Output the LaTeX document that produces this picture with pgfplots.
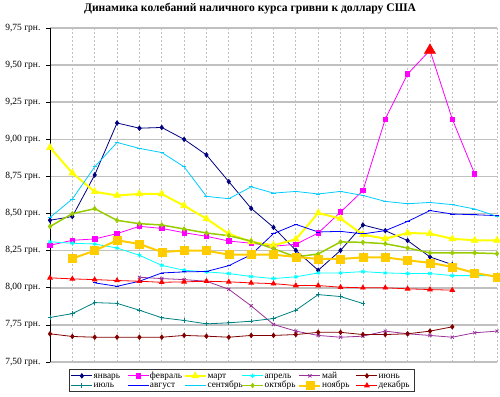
\documentclass[border=0pt]{standalone}
\usepackage{fontspec}
\setmainfont{Liberation Serif}
\usepackage{pgfplots}
\pgfplotsset{compat=1.18}
\definecolor{cJan}{HTML}{000080}
\definecolor{cFeb}{HTML}{FF00FF}
\definecolor{cMar}{HTML}{FFFF00}
\definecolor{cApr}{HTML}{00FFFF}
\definecolor{cMay}{HTML}{993399}
\definecolor{cJun}{HTML}{800000}
\definecolor{cJul}{HTML}{008080}
\definecolor{cAug}{HTML}{0000FF}
\definecolor{cSep}{HTML}{00CCFF}
\definecolor{cOct}{HTML}{99CC00}
\definecolor{cNov}{HTML}{FFCC00}
\definecolor{cDec}{HTML}{FF0000}
\definecolor{gridc}{HTML}{C0C0C0}
\begin{document}
\begin{tikzpicture}
\useasboundingbox (0pt,0pt) rectangle (500pt,-396pt);
\begin{axis}[
  at={(50pt,-362pt)}, anchor=south west,
  scale only axis, width=447pt, height=334pt,
  xmin=0, xmax=20, ymin=7.5, ymax=9.75,
  clip=false,
  axis y line=left, axis x line=bottom,
  axis line style={-},
  y axis line style={black, line width=0.8pt},
  x axis line style={draw=gridc, line width=1.4pt},
  xtick={0,...,20}, xticklabels={}, xtick style={draw=none},
  ytick={7.5,7.75,8,8.25,8.5,8.75,9,9.25,9.5,9.75},
  yticklabels={{7,50 грн.},{7,75 грн.},{8,00 грн.},{8,25 грн.},{8,50 грн.},{8,75 грн.},{9,00 грн.},{9,25 грн.},{9,50 грн.},{9,75 грн.}},
  y tick label style={font=\fontsize{9.5}{9.5}\selectfont, xshift=-2pt},
  ytick style={black, line width=0.6pt},
  tick align=outside, major tick length=4pt,
  xmajorgrids, ymajorgrids,
  x grid style={gridc, line width=0.8pt, dash pattern=on 2pt off 2pt},
  y grid style={gridc, line width=1.5pt},
  legend columns=6,
  legend image code/.code={\draw[mark repeat=2,mark phase=2,#1] plot coordinates {(0pt,0pt) (10.5pt,0pt) (21pt,0pt)};},
  legend style={at={(0.0425,-0.022)}, anchor=north west, draw=black!80, line width=0.9pt,
    font=\fontsize{9.3}{9.3}\selectfont, inner sep=1.5pt, row sep=0.6pt,
    nodes={inner sep=0.8pt, text height=6pt, text depth=1.5pt},
    /tikz/every even column/.append style={column sep=0pt}},
  legend cell align=left,
]
\addplot[cJan, line width=0.8pt, mark=diamond*, mark size=2.2pt] coordinates {
(0,8.455) (1,8.48) (2,8.76) (3,9.11) (4,9.075) (5,9.08) (6,9.0) (7,8.895) (8,8.715) (9,8.535)
(10,8.407) (11,8.252) (12,8.118) (13,8.252) (14,8.423) (15,8.385) (16,8.318) (17,8.208) (18,8.156)};
\addlegendentry{\makebox[33pt][l]{январь}}
\addplot[cFeb, line width=0.8pt, mark=square*, mark size=2.2pt] coordinates {
(0,8.286) (1,8.32) (2,8.329) (3,8.365) (4,8.414) (5,8.40) (6,8.371) (7,8.347) (8,8.315) (9,8.30)
(10,8.28) (11,8.293) (12,8.369) (13,8.51) (14,8.654) (15,9.136) (16,9.44) (17,9.60) (18,9.136) (19,8.768)};
\addlegendentry{\makebox[33pt][l]{февраль}}
\addplot[cMar, line width=2pt, mark=triangle*, mark size=4pt, mark options={line width=0.5pt}] coordinates {
(0,8.945) (1,8.773) (2,8.647) (3,8.622) (4,8.632) (5,8.632) (6,8.553) (7,8.465) (8,8.363) (9,8.309)
(10,8.286) (11,8.327) (12,8.504) (13,8.466) (14,8.358) (15,8.331) (16,8.369) (17,8.365) (18,8.33) (19,8.32) (20,8.32)};
\addlegendentry{\makebox[33pt][l]{март}}
\addplot[cApr, line width=0.8pt, mark=asterisk, mark size=2.2pt] coordinates {
(0,8.31) (1,8.30) (2,8.295) (3,8.268) (4,8.219) (5,8.151) (6,8.118) (7,8.107) (8,8.096) (9,8.076)
(10,8.062) (11,8.074) (12,8.10) (13,8.10) (14,8.109) (15,8.10) (16,8.096) (17,8.096) (18,8.082) (19,8.082) (20,8.082)};
\addlegendentry{\makebox[33pt][l]{апрель}}
\addplot[cMay, line width=0.8pt, mark=x, mark size=2.2pt] coordinates {
(4,8.071) (5,8.062) (6,8.055) (7,8.044) (8,7.99) (9,7.878) (10,7.753) (11,7.708) (12,7.679) (13,7.667)
(14,7.674) (15,7.708) (16,7.69) (17,7.679) (18,7.667) (19,7.697) (20,7.708)};
\addlegendentry{\makebox[33pt][l]{май}}
\addplot[cJun, line width=0.8pt, mark=diamond*, mark size=2.2pt] coordinates {
(0,7.69) (1,7.672) (2,7.667) (3,7.667) (4,7.667) (5,7.667) (6,7.679) (7,7.674) (8,7.667) (9,7.679)
(10,7.679) (11,7.685) (12,7.70) (13,7.70) (14,7.685) (15,7.685) (16,7.69) (17,7.708) (18,7.737)};
\addlegendentry{\makebox[33pt][l]{июнь}}
\addplot[cJul, line width=0.8pt, mark=+, mark size=2.2pt] coordinates {
(0,7.80) (1,7.826) (2,7.90) (3,7.895) (4,7.849) (5,7.798) (6,7.78) (7,7.757) (8,7.764) (9,7.775)
(10,7.793) (11,7.849) (12,7.954) (13,7.941) (14,7.894)};
\addlegendentry{\makebox[33pt][l]{июль}}
\addplot[cAug, line width=0.8pt, mark=-, mark size=2.2pt] coordinates {
(2,8.033) (3,8.01) (4,8.044) (5,8.10) (6,8.107) (7,8.11) (8,8.149) (9,8.223) (10,8.365) (11,8.427)
(12,8.376) (13,8.38) (14,8.363) (15,8.385) (16,8.447) (17,8.52) (18,8.497) (19,8.492) (20,8.486)};
\addlegendentry{\makebox[33pt][l]{август}}
\addplot[cSep, line width=0.8pt, mark=-, mark size=2.2pt] coordinates {
(0,8.474) (1,8.598) (2,8.815) (3,8.979) (4,8.939) (5,8.911) (6,8.815) (7,8.616) (8,8.60) (9,8.68)
(10,8.638) (11,8.649) (12,8.632) (13,8.649) (14,8.622) (15,8.582) (16,8.566) (17,8.575) (18,8.56) (19,8.531) (20,8.481)};
\addlegendentry{\makebox[33pt][l]{сентябрь}}
\addplot[cOct, line width=1.5pt, mark=diamond*, mark size=2.4pt, mark options={line width=0.5pt}] coordinates {
(0,8.413) (1,8.499) (2,8.533) (3,8.454) (4,8.432) (5,8.423) (6,8.396) (7,8.369) (8,8.351) (9,8.315)
(10,8.263) (11,8.208) (12,8.228) (13,8.309) (14,8.306) (15,8.297) (16,8.268) (17,8.235) (18,8.235) (19,8.235) (20,8.23)};
\addlegendentry{\makebox[33pt][l]{октябрь}}
\addplot[cNov, line width=2pt, mark=square*, mark size=4pt, mark options={line width=0.5pt}] coordinates {
(1,8.197) (2,8.25) (3,8.32) (4,8.295) (5,8.241) (6,8.25) (7,8.25) (8,8.223) (9,8.223) (10,8.223)
(11,8.208) (12,8.194) (13,8.194) (14,8.205) (15,8.205) (16,8.185) (17,8.168) (18,8.141) (19,8.10) (20,8.074)};
\addlegendentry{\makebox[33pt][l]{ноябрь}}
\addplot[cDec, line width=0.8pt, mark=triangle*, mark size=2.6pt] coordinates {
(0,8.067) (1,8.06) (2,8.055) (3,8.049) (4,8.044) (5,8.037) (6,8.04) (7,8.044) (8,8.04) (9,8.033)
(10,8.028) (11,8.015) (12,8.015) (13,8.004) (14,8.0) (15,8.0) (16,7.993) (17,7.988) (18,7.984)};
\addlegendentry{\makebox[33pt][l]{декабрь}}
\addplot[forget plot, only marks, cDec, mark=triangle*, mark size=6.5pt] coordinates {(17,9.60)};
\end{axis}
\node[font=\bfseries\fontsize{11.6}{13}\selectfont] at (250pt,-9pt) {Динамика колебаний наличного курса гривни к доллару США};
\end{tikzpicture}
\end{document}
